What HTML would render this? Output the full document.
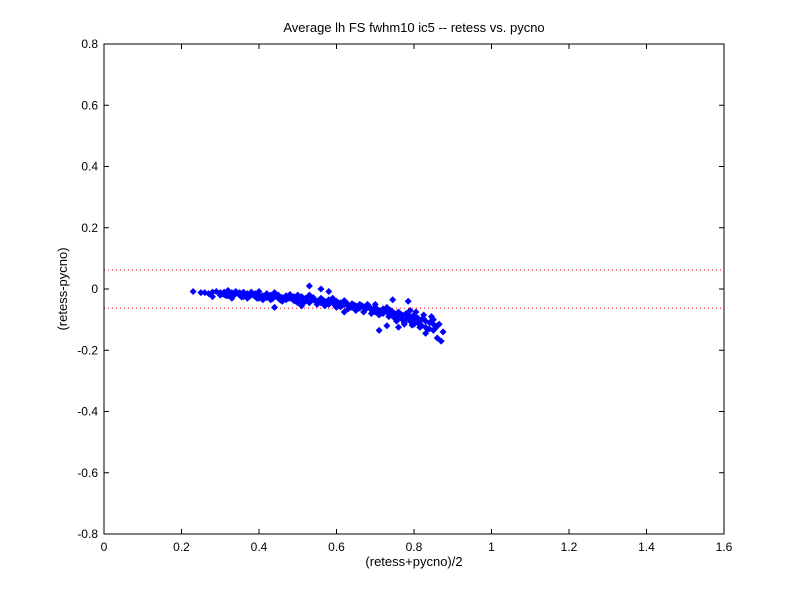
<!DOCTYPE html>
<html><head><meta charset="utf-8"><style>
body{margin:0;background:#fff}
svg{display:block;font-family:"Liberation Sans",sans-serif}
</style></head><body>
<svg id="chart" width="800" height="600" viewBox="0 0 800 600">
<rect x="0" y="0" width="800" height="600" fill="#fff"/>
<g id="plot"></g>
</svg>
<script>
const xTicks=[0,0.2,0.4,0.6,0.8,1,1.2,1.4,1.6];
const xTickLabels=["0","0.2","0.4","0.6","0.8","1","1.2","1.4","1.6"];
const yTicks=[-0.8,-0.6,-0.4,-0.2,0,0.2,0.4,0.6,0.8];
const yTickLabels=["-0.8","-0.6","-0.4","-0.2","0","0.2","0.4","0.6","0.8"];
const limitLines=[0.062,-0.063];
const xs=[0.23,0.25,0.26,0.27,0.28,0.28,0.29,0.30,0.30,0.31,0.31,0.32,0.32,0.33,0.33,0.34,0.34,0.35,0.35,0.36,0.36,0.37,0.37,0.38,0.38,0.39,0.39,0.40,0.40,0.40,0.41,0.41,0.42,0.42,0.43,0.43,0.44,0.44,0.45,0.45,0.46,0.46,0.47,0.47,0.48,0.48,0.49,0.49,0.50,0.50,0.50,0.51,0.51,0.52,0.52,0.53,0.53,0.54,0.54,0.55,0.55,0.56,0.56,0.57,0.57,0.58,0.58,0.59,0.59,0.60,0.60,0.60,0.61,0.61,0.62,0.62,0.63,0.63,0.64,0.64,0.65,0.65,0.66,0.66,0.67,0.67,0.68,0.68,0.69,0.69,0.70,0.70,0.70,0.71,0.71,0.72,0.72,0.73,0.73,0.74,0.74,0.75,0.75,0.76,0.76,0.77,0.77,0.78,0.78,0.79,0.79,0.80,0.80,0.80,0.81,0.81,0.82,0.82,0.83,0.83,0.84,0.84,0.85,0.85,0.86,0.86,0.87,0.875,0.53,0.56,0.58,0.745,0.785,0.71,0.73,0.76,0.44,0.51,0.62,0.83,0.85,0.79,
0.305,0.325,0.345,0.365,0.385,0.405,0.425,0.445,0.465,0.485,0.505,0.525,0.545,0.565,0.585,0.605,0.625,0.645,0.665,0.685,0.705,0.725,0.745,0.765,0.785,0.805,0.825,0.845,0.865,
0.315,0.335,0.355,0.375,0.395,0.415,0.435,0.455,0.475,0.495,0.515,0.535,0.555,0.575,0.595,0.615,0.635,0.655,0.675,0.695,0.715,0.735,0.755,0.775,0.795,0.815,0.835,0.855,0.845,0.825,0.805,0.775,0.755];
const ys=[-0.008,-0.012,-0.012,-0.015,-0.01,-0.025,-0.008,-0.012,-0.02,-0.01,-0.018,-0.005,-0.022,-0.012,-0.03,-0.015,-0.008,-0.02,-0.012,-0.01,-0.025,-0.015,-0.03,-0.02,-0.01,-0.025,-0.015,-0.03,-0.018,-0.008,-0.022,-0.035,-0.015,-0.028,-0.02,-0.035,-0.025,-0.012,-0.03,-0.02,-0.028,-0.04,-0.022,-0.035,-0.03,-0.018,-0.038,-0.025,-0.03,-0.045,-0.02,-0.035,-0.025,-0.04,-0.03,-0.02,-0.045,-0.035,-0.028,-0.04,-0.05,-0.03,-0.045,-0.04,-0.055,-0.035,-0.05,-0.045,-0.03,-0.05,-0.06,-0.04,-0.045,-0.058,-0.05,-0.038,-0.055,-0.065,-0.048,-0.06,-0.055,-0.07,-0.05,-0.062,-0.058,-0.075,-0.06,-0.05,-0.068,-0.08,-0.06,-0.075,-0.05,-0.07,-0.085,-0.065,-0.08,-0.075,-0.06,-0.085,-0.07,-0.08,-0.095,-0.075,-0.09,-0.085,-0.1,-0.08,-0.095,-0.09,-0.105,-0.085,-0.1,-0.115,-0.095,-0.11,-0.1,-0.12,-0.105,-0.125,-0.11,-0.13,-0.115,-0.135,-0.12,-0.16,-0.17,-0.14,0.01,0.0,-0.008,-0.035,-0.04,-0.135,-0.12,-0.125,-0.06,-0.055,-0.075,-0.145,-0.1,-0.07,
-0.016,-0.018,-0.014,-0.02,-0.017,-0.024,-0.022,-0.02,-0.03,-0.028,-0.026,-0.034,-0.038,-0.036,-0.042,-0.046,-0.044,-0.052,-0.054,-0.058,-0.066,-0.07,-0.075,-0.082,-0.088,-0.092,-0.098,-0.105,-0.115,
-0.022,-0.02,-0.026,-0.024,-0.03,-0.028,-0.032,-0.036,-0.03,-0.04,-0.044,-0.038,-0.042,-0.048,-0.052,-0.054,-0.06,-0.064,-0.066,-0.072,-0.078,-0.09,-0.1,-0.11,-0.118,-0.125,-0.132,-0.128,-0.09,-0.085,-0.075,-0.115,-0.105];

const L=104,R=724,T=44,B=534,xMin=0,xMax=1.6,yMin=-0.8,yMax=0.8;
const sx=v=>L+(v-xMin)/(xMax-xMin)*(R-L);
const sy=v=>B-(v-yMin)/(yMax-yMin)*(B-T);
const NS="http://www.w3.org/2000/svg";
const g=document.getElementById('plot');
function mk(tag,attrs,txt){const e=document.createElementNS(NS,tag);for(const k in attrs)e.setAttribute(k,attrs[k]);if(txt!==undefined)e.textContent=txt;g.appendChild(e);return e;}

let e=mk('rect',{x:L,y:T,width:R-L,height:B-T,fill:'#fff',stroke:'none'});



limitLines.forEach(v=>{
  const l=mk('line',{x1:L,x2:R,y1:sy(v),y2:sy(v),stroke:'#ff0000','stroke-width':1,'stroke-dasharray':'1 3'});
  
  
});

for(let i=0;i<xs.length;i++){
  const cx=sx(xs[i]),cy=sy(ys[i]);
  const p=mk('path',{d:`M${cx} ${cy-3.5}L${cx+3.5} ${cy}L${cx} ${cy+3.5}L${cx-3.5} ${cy}Z`,fill:'#0000ff'});
  
  
}

e=mk('rect',{x:L,y:T,width:R-L,height:B-T,fill:'none',stroke:'#000','stroke-width':1});



xTicks.forEach((v,i)=>{
  const x=sx(v);
  let t=mk('line',{x1:x,x2:x,y1:B,y2:B-5,stroke:'#000'});
  
  
  t=mk('line',{x1:x,x2:x,y1:T,y2:T+5,stroke:'#000'});
  
  
  const lb=mk('text',{x:x,y:B+17,'text-anchor':'middle','font-size':12},xTickLabels[i]);
  
  
});
yTicks.forEach((v,i)=>{
  const y=sy(v);
  let t=mk('line',{x1:L,x2:L+5,y1:y,y2:y,stroke:'#000'});
  
  
  t=mk('line',{x1:R,x2:R-5,y1:y,y2:y,stroke:'#000'});
  
  
  const lb=mk('text',{x:L-6,y:y+4,'text-anchor':'end','font-size':12},yTickLabels[i]);
  
  
});

e=mk('text',{x:(L+R)/2,y:32,'text-anchor':'middle','font-size':13},'Average lh FS fwhm10 ic5 -- retess vs. pycno');


e=mk('text',{x:(L+R)/2,y:566,'text-anchor':'middle','font-size':13},'(retess+pycno)/2');


e=mk('text',{x:0,y:0,'text-anchor':'middle','font-size':13,transform:`translate(67,${(T+B)/2}) rotate(-90)`},'(retess-pycno)');


</script>
</body></html>
